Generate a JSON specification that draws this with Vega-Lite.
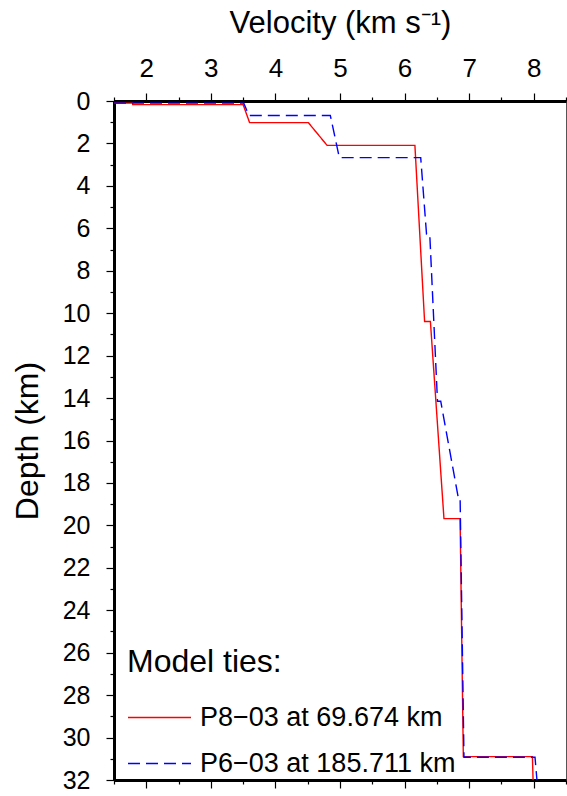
{
  "$schema": "https://vega.github.io/schema/vega-lite/v6.json",
  "autosize": {"type": "none"},
  "width": 452,
  "height": 679,
  "padding": {"left": 114, "top": 101, "right": 1, "bottom": 16},
  "background": "white",
  "config": {
    "font": "Liberation Sans",
    "view": {"stroke": "#555555", "strokeWidth": 1},
    "axis": {
      "labelFont": "Liberation Sans",
      "titleFont": "Liberation Sans",
      "labelColor": "black",
      "titleColor": "black",
      "tickColor": "black",
      "domainColor": "black",
      "grid": false,
      "titleFontWeight": "normal"
    },
    "legend": {
      "labelFont": "Liberation Sans",
      "titleFont": "Liberation Sans",
      "labelColor": "black",
      "titleColor": "black",
      "titleFontWeight": "normal"
    }
  },
  "data": {
    "values": [
      {"model": "P8−03 at 69.674 km", "i": 1, "v": 1.5, "depth": 0.1},
      {"model": "P8−03 at 69.674 km", "i": 2, "v": 1.79, "depth": 0.1},
      {"model": "P8−03 at 69.674 km", "i": 3, "v": 1.79, "depth": 0.17},
      {"model": "P8−03 at 69.674 km", "i": 4, "v": 3.5, "depth": 0.17},
      {"model": "P8−03 at 69.674 km", "i": 5, "v": 3.6, "depth": 1.02},
      {"model": "P8−03 at 69.674 km", "i": 6, "v": 4.51, "depth": 1.02},
      {"model": "P8−03 at 69.674 km", "i": 7, "v": 4.8, "depth": 2.09},
      {"model": "P8−03 at 69.674 km", "i": 8, "v": 6.16, "depth": 2.09},
      {"model": "P8−03 at 69.674 km", "i": 9, "v": 6.31, "depth": 10.39},
      {"model": "P8−03 at 69.674 km", "i": 10, "v": 6.4, "depth": 10.39},
      {"model": "P8−03 at 69.674 km", "i": 11, "v": 6.61, "depth": 19.68},
      {"model": "P8−03 at 69.674 km", "i": 12, "v": 6.86, "depth": 19.68},
      {"model": "P8−03 at 69.674 km", "i": 13, "v": 6.91, "depth": 30.9},
      {"model": "P8−03 at 69.674 km", "i": 14, "v": 7.98, "depth": 30.9},
      {"model": "P8−03 at 69.674 km", "i": 15, "v": 7.99, "depth": 32},
      {"model": "P6−03 at 185.711 km", "i": 1, "v": 1.5, "depth": 0.1},
      {"model": "P6−03 at 185.711 km", "i": 2, "v": 3.51, "depth": 0.1},
      {"model": "P6−03 at 185.711 km", "i": 3, "v": 3.59, "depth": 0.68},
      {"model": "P6−03 at 185.711 km", "i": 4, "v": 4.85, "depth": 0.68},
      {"model": "P6−03 at 185.711 km", "i": 5, "v": 4.99, "depth": 2.67},
      {"model": "P6−03 at 185.711 km", "i": 6, "v": 6.25, "depth": 2.67},
      {"model": "P6−03 at 185.711 km", "i": 7, "v": 6.34, "depth": 6.27},
      {"model": "P6−03 at 185.711 km", "i": 8, "v": 6.39, "depth": 6.27},
      {"model": "P6−03 at 185.711 km", "i": 9, "v": 6.51, "depth": 14.15},
      {"model": "P6−03 at 185.711 km", "i": 10, "v": 6.56, "depth": 14.15},
      {"model": "P6−03 at 185.711 km", "i": 11, "v": 6.83, "depth": 18.67},
      {"model": "P6−03 at 185.711 km", "i": 12, "v": 6.86, "depth": 18.67},
      {"model": "P6−03 at 185.711 km", "i": 13, "v": 6.92, "depth": 30.93},
      {"model": "P6−03 at 185.711 km", "i": 14, "v": 8.02, "depth": 30.93},
      {"model": "P6−03 at 185.711 km", "i": 15, "v": 8.05, "depth": 32}
    ]
  },
  "resolve": {"axis": {"x": "independent", "y": "independent"}},
  "layer": [
    {
      "mark": {"type": "line", "strokeWidth": 1.4, "clip": true},
      "encoding": {
        "x": {
          "field": "v", "type": "quantitative",
          "scale": {"domain": [1.5, 8.5], "nice": false, "zero": false},
          "axis": {
            "orient": "top",
            "values": [2, 3, 4, 5, 6, 7, 8],
            "title": "Velocity (km s⁻¹)",
            "titleFontSize": 31,
            "titlePadding": 16,
            "labelFontSize": 26,
            "labelPadding": 12,
            "tickSize": 8,
            "tickWidth": 1.2,
            "domainWidth": 3
          }
        },
        "y": {
          "field": "depth", "type": "quantitative",
          "scale": {"domain": [0, 32], "reverse": true, "nice": false, "zero": false},
          "axis": {
            "orient": "left",
            "values": [0, 2, 4, 6, 8, 10, 12, 14, 16, 18, 20, 22, 24, 26, 28, 30, 32],
            "title": "Depth (km)",
            "titleFontSize": 32,
            "titlePadding": 18,
            "labelFontSize": 25,
            "labelPadding": 16,
            "tickSize": 8,
            "tickWidth": 1.2,
            "domainWidth": 3
          }
        },
        "color": {
          "field": "model", "type": "nominal",
          "scale": {"domain": ["P8−03 at 69.674 km", "P6−03 at 185.711 km"], "range": ["#ff0000", "#0000ff"]},
          "legend": {
            "title": "Model ties:",
            "orient": "none",
            "legendX": 13,
            "legendY": 546,
            "titleFontSize": 32,
            "titlePadding": 6,
            "labelFontSize": 27,
            "labelOffset": 8,
            "labelLimit": 0,
            "rowPadding": -20,
            "symbolType": "stroke",
            "symbolSize": 3969,
            "symbolStrokeWidth": 1.4,
            "padding": 0
          }
        },
        "strokeDash": {
          "field": "model", "type": "nominal",
          "scale": {"domain": ["P8−03 at 69.674 km", "P6−03 at 185.711 km"], "range": [[1, 0], [12, 6]]},
          "legend": null
        },
        "order": {"field": "i", "type": "quantitative"}
      }
    },
    {
      "mark": {"type": "point", "opacity": 0},
      "encoding": {
        "x": {
          "field": "v", "type": "quantitative",
          "axis": {
            "orient": "top",
            "values": [1.5, 2.5, 3.5, 4.5, 5.5, 6.5, 7.5, 8.5],
            "labels": false, "title": null, "domain": false,
            "tickSize": 4, "tickWidth": 1.2
          }
        },
        "y": {
          "field": "depth", "type": "quantitative",
          "axis": {
            "orient": "left",
            "values": [1, 3, 5, 7, 9, 11, 13, 15, 17, 19, 21, 23, 25, 27, 29, 31],
            "labels": false, "title": null, "domain": false,
            "tickSize": 4, "tickWidth": 1.2
          }
        }
      }
    },
    {
      "mark": {"type": "point", "opacity": 0},
      "encoding": {
        "x": {
          "field": "v", "type": "quantitative",
          "axis": {
            "orient": "bottom",
            "values": [2, 3, 4, 5, 6, 7, 8],
            "labels": false, "title": null,
            "domainWidth": 3,
            "tickSize": 8, "tickWidth": 1.2
          }
        },
        "y": {"field": "depth", "type": "quantitative", "axis": null}
      }
    },
    {
      "mark": {"type": "point", "opacity": 0},
      "encoding": {
        "x": {
          "field": "v", "type": "quantitative",
          "axis": {
            "orient": "bottom",
            "values": [1.5, 2.5, 3.5, 4.5, 5.5, 6.5, 7.5, 8.5],
            "labels": false, "title": null, "domain": false,
            "tickSize": 4, "tickWidth": 1.2
          }
        },
        "y": {"field": "depth", "type": "quantitative", "axis": null}
      }
    }
  ]
}
